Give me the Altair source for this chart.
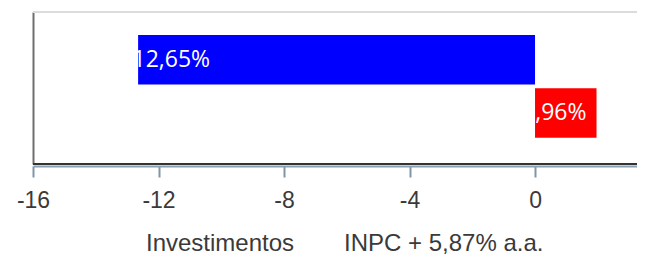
import altair as alt
import pandas as pd

categories = ["Investimentos", "INPC + 5,87% a.a."]
values = [-12.65, 1.96]
colors = ["#0000ff", "#ff0000"]
tick_values = [-16, -12, -8, -4, 0]

labels = [f"{v:.2f}".replace(".", ",") + "%" for v in values]
df = pd.DataFrame({"cat": categories, "value": values, "label": labels})

W, H = 604, 152

xscale = alt.Scale(domain=[-16, 3.25], nice=False, zero=False)
yscale = alt.Scale(paddingInner=0.066, paddingOuter=0.464, align=0.467)

base = alt.Chart(df)

bars = base.mark_bar().encode(
    x=alt.X("value:Q", scale=xscale,
            axis=alt.Axis(values=tick_values, title=None, grid=False, labelFlush=False,
                          labelExpr="toString(datum.value)",
                          offset=2, domainColor="#8a9fb0", domainWidth=2,
                          tickColor="#7f96a8", tickWidth=2, tickSize=11,
                          labelFont="Liberation Sans", labelFontSize=23,
                          labelColor="#3a3a3a", labelPadding=12)),
    y=alt.Y("cat:N", sort=categories, scale=yscale,
            axis=alt.Axis(title=None, labels=False, ticks=False, grid=False,
                          domainColor="#6e6e6e", domainWidth=2)),
    color=alt.Color("cat:N", sort=categories,
                    scale=alt.Scale(domain=categories, range=colors),
                    legend=alt.Legend(title=None, orient="none", direction="horizontal",
                                      legendX=89, legendY=220,
                                      symbolOpacity=0, symbolSize=1, symbolStrokeWidth=0,
                                      labelOffset=0, columnPadding=25,
                                      labelFont="Liberation Sans", labelFontSize=24,
                                      labelColor="#3a3a3a", labelLimit=400)),
)

text = base.transform_calculate(start="min(datum.value, 0)").mark_text(
    align="left", baseline="middle", dx=-13, color="white",
    font="Open Sans", fontSize=23,
).encode(
    x=alt.X("start:Q", scale=xscale),
    y=alt.Y("cat:N", sort=categories, scale=yscale),
    text="label:N",
)

top_rule = alt.Chart(df).mark_rule(color="#dcdcdc", strokeWidth=2).encode(
    x=alt.value(0), x2=alt.value(W), y=alt.value(0))
bottom_rule = alt.Chart(df).mark_rule(color="#333333", strokeWidth=2).encode(
    x=alt.value(0), x2=alt.value(W), y=alt.value(H))

chart = alt.layer(top_rule, bars, text, bottom_rule).properties(
    width=W, height=H,
    autosize=alt.AutoSizeParams(type="none"),
    padding={"left": 25, "top": 4, "right": 0, "bottom": 92},
).configure_view(stroke=None)

chart.save("out.html", embed_options={"renderer": "svg", "actions": False})
